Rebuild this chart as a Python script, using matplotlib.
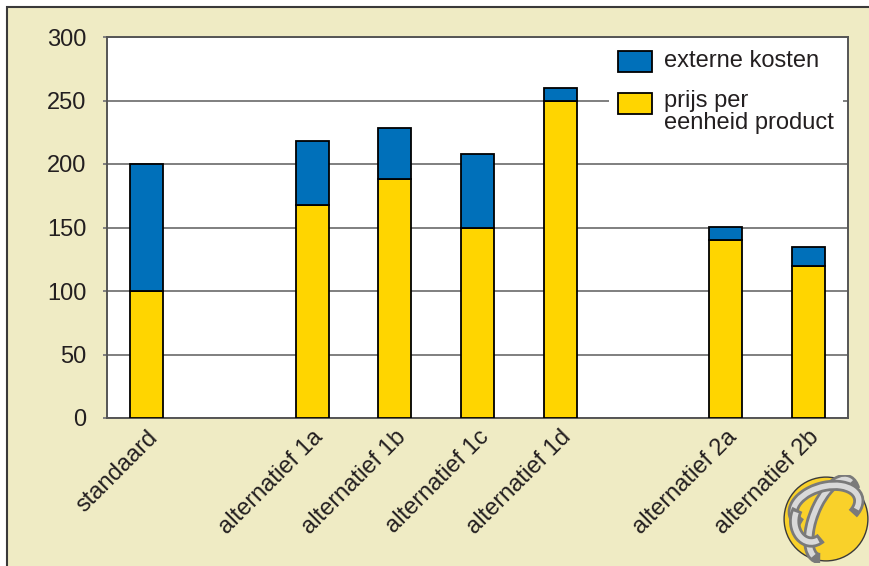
"""
Kosten per eenheid product: standaard versus alternatieven,
opgesplitst in prijs per eenheid product en externe kosten.
"""

import matplotlib
matplotlib.use("Agg")
import matplotlib.pyplot as plt
from matplotlib.patches import Rectangle, Circle, Arc

# ============================================================
# DATA
# ============================================================
categories = ["standaard", "alternatief 1a", "alternatief 1b", "alternatief 1c",
              "alternatief 1d", "alternatief 2a", "alternatief 2b"]
# slot on the x axis (there are empty slots between the groups)
slots = [0, 2, 3, 4, 5, 7, 8]
prijs = [100, 168, 188, 150, 250, 140, 120]
extern = [100, 50, 40, 58, 10, 10, 15]
y_ticks = [0, 50, 100, 150, 200, 250, 300]

label_extern = "externe kosten"
label_prijs = "prijs per\neenheid product"

BLUE = "#0070BA"
YELLOW = "#FFD500"
BEIGE = "#EFEBC4"
TEXT = "#231F20"

plt.rcParams["font.family"] = ["Liberation Sans", "DejaVu Sans"]

fig = plt.figure(figsize=(8.7, 5.66), dpi=100)
fig.patch.set_facecolor("white")

# beige panel with a dark frame on the left and top
fig.add_artist(Rectangle((7 / 870, -0.05), 1.1, 1 - 7 / 566 + 0.05,
                         transform=fig.transFigure, facecolor=BEIGE,
                         edgecolor="#3a3a3a", linewidth=1.5, zorder=0))

ax = fig.add_axes([107 / 870, 148 / 566, 741 / 870, 381 / 566])
ax.set_facecolor("white")

# ============================================================
# BARS
# ============================================================
ax.bar(slots, prijs, width=0.4, color=YELLOW, edgecolor="black",
       linewidth=1.3, zorder=3)
ax.bar(slots, extern, bottom=prijs, width=0.4, color=BLUE,
       edgecolor="black", linewidth=1.3, zorder=3)

ax.set_xlim(-0.48, 8.48)
ax.set_ylim(0, 300)
ax.set_yticks(y_ticks)
ax.set_yticklabels([str(t) for t in y_ticks], fontsize=17, color=TEXT)
ax.yaxis.grid(True, color="#7f7f7f", linewidth=1.4, zorder=1)
ax.tick_params(axis="y", length=3, width=1.4, color="#7f7f7f", pad=12)

ax.set_xticks(slots)
ax.set_xticklabels(categories, rotation=45, ha="right",
                   rotation_mode="anchor", fontsize=17, color=TEXT)
ax.tick_params(axis="x", length=0, pad=6)
for lbl in ax.get_xticklabels():
    lbl.set_x(lbl.get_position()[0])

for side in ["left", "right", "top", "bottom"]:
    ax.spines[side].set_color("#555555")
    ax.spines[side].set_linewidth(1.4)

# ============================================================
# LEGEND (drawn by hand so the patch lines up with the first text line)
# ============================================================
ax.add_patch(Rectangle((0.677, 0.70), 0.316, 0.29, transform=ax.transAxes,
                       facecolor="white", edgecolor="none", zorder=4))
ax.add_patch(Rectangle((0.6896, 0.908), 0.0459, 0.055, transform=ax.transAxes,
                       facecolor=BLUE, edgecolor="black", linewidth=1.3, zorder=5))
ax.add_patch(Rectangle((0.6896, 0.798), 0.0459, 0.055, transform=ax.transAxes,
                       facecolor=YELLOW, edgecolor="black", linewidth=1.3, zorder=5))
ax.text(0.7517, 0.937, label_extern, transform=ax.transAxes, fontsize=17,
        color=TEXT, va="center", ha="left", zorder=6)
ax.text(0.7517, 0.862, label_prijs, transform=ax.transAxes, fontsize=17,
        color=TEXT, va="top", ha="left", linespacing=1.0, zorder=6)

# ============================================================
# LOGO (rough sketch of the yellow globe with silver ribbon)
# ============================================================
lax = fig.add_axes([782 / 870, 3 / 566, 88 / 870, 88 / 566])
lax.set_xlim(-1.05, 1.05)
lax.set_ylim(-1.05, 1.05)
lax.set_aspect("equal")
lax.axis("off")
lax.add_patch(Circle((0, 0), 1.0, facecolor="#F9D12A", edgecolor="#3a3a3a",
                     linewidth=1.0))
# vertical, tilted band
lax.add_patch(Arc((0.15, 0.0), 0.9, 2.0, angle=-22, theta1=75, theta2=275,
                  color="#7a7a7a", linewidth=8))
lax.add_patch(Arc((0.15, 0.0), 0.9, 2.0, angle=-22, theta1=85, theta2=265,
                  color="#d9d9d9", linewidth=4))
# loop around the top
lax.add_patch(Arc((0.0, 0.3), 1.6, 0.95, angle=15, theta1=-30, theta2=200,
                  color="#7a7a7a", linewidth=8))
lax.add_patch(Arc((0.0, 0.3), 1.6, 0.95, angle=15, theta1=-20, theta2=190,
                  color="#d9d9d9", linewidth=4))
lax.add_patch(Arc((-0.35, -0.05), 0.8, 1.0, angle=0, theta1=140, theta2=300,
                  color="#7a7a7a", linewidth=8))
lax.add_patch(Arc((-0.35, -0.05), 0.8, 1.0, angle=0, theta1=150, theta2=290,
                  color="#d9d9d9", linewidth=4))

plt.savefig("out.png", dpi=100, facecolor=fig.get_facecolor())
plt.close()
